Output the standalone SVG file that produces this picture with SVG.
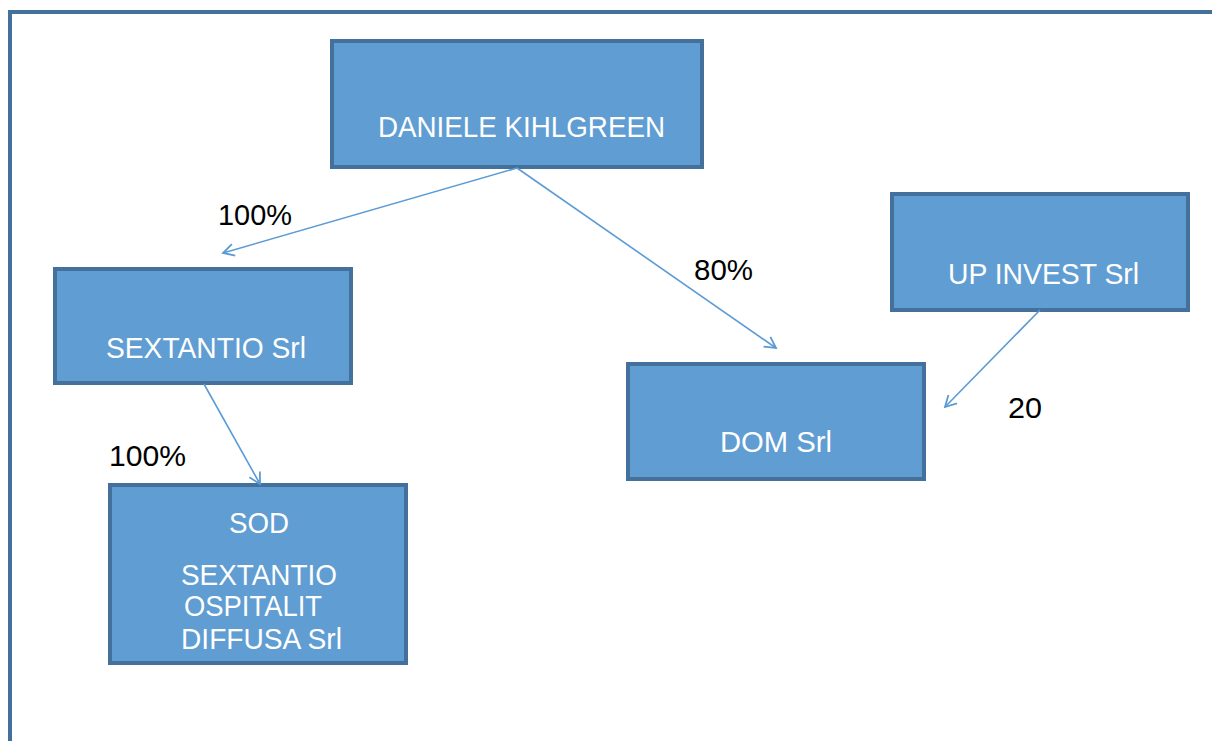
<svg xmlns="http://www.w3.org/2000/svg" width="1212" height="741" viewBox="0 0 1212 741">
<defs>
<marker id="arr" markerWidth="14" markerHeight="14" refX="12" refY="7" orient="auto" markerUnits="userSpaceOnUse">
<path d="M1,1 L12,7 L1,13" fill="none" stroke="#5B9BD5" stroke-width="1.8"/>
</marker>
<style>
.box{fill:#5F9DD2;stroke:#44719B;stroke-width:4}
.t{font-family:"Liberation Sans",Arial,sans-serif;font-size:30px;fill:#ffffff}
.l{font-family:"Liberation Sans",Arial,sans-serif;font-size:30px;fill:#000000}
.c{fill:none;stroke:#5B9BD5;stroke-width:1.6;marker-end:url(#arr)}
</style>
</defs>
<rect width="1212" height="741" fill="#ffffff"/>
<path d="M10,741 L10,12 L1212,12" fill="none" stroke="#44719B" stroke-width="4"/>
<g id="n-daniele">
<rect class="box" x="332" y="41" width="370" height="126"/>
<text class="t" x="378" y="137" textLength="287" lengthAdjust="spacingAndGlyphs">DANIELE KIHLGREEN</text>
</g>
<g id="n-sextantio">
<rect class="box" x="55" y="269" width="296" height="114"/>
<text class="t" x="106" y="358" textLength="200" lengthAdjust="spacingAndGlyphs">SEXTANTIO Srl</text>
</g>
<g id="n-sod">
<rect class="box" x="110" y="485" width="296" height="178"/>
<text class="t" x="229" y="533" textLength="60" lengthAdjust="spacingAndGlyphs">SOD</text>
<text class="t" x="181" y="585" textLength="156" lengthAdjust="spacingAndGlyphs">SEXTANTIO</text>
<text class="t" x="184" y="616" textLength="138" lengthAdjust="spacingAndGlyphs">OSPITALIT</text>
<text class="t" x="181" y="649" textLength="161" lengthAdjust="spacingAndGlyphs">DIFFUSA Srl</text>
</g>
<g id="n-dom">
<rect class="box" x="628" y="364" width="296" height="115"/>
<text class="t" x="720" y="452" textLength="112" lengthAdjust="spacingAndGlyphs">DOM Srl</text>
</g>
<g id="n-upinvest">
<rect class="box" x="892" y="194" width="296" height="116"/>
<text class="t" x="948" y="284" textLength="191" lengthAdjust="spacingAndGlyphs">UP INVEST Srl</text>
</g>
<g id="connectors">
<line class="c" x1="517" y1="168" x2="223" y2="253"/>
<line class="c" x1="517" y1="168" x2="776" y2="348"/>
<line class="c" x1="204" y1="384" x2="260" y2="484"/>
<line class="c" x1="1040" y1="310" x2="945" y2="407"/>
</g>
<g id="labels">
<text class="l" x="218" y="225" textLength="74" lengthAdjust="spacingAndGlyphs">100%</text>
<text class="l" x="694" y="280" textLength="59" lengthAdjust="spacingAndGlyphs">80%</text>
<text class="l" x="109" y="466" textLength="77" lengthAdjust="spacingAndGlyphs">100%</text>
<text class="l" x="1008" y="418" textLength="34" lengthAdjust="spacingAndGlyphs">20</text>
</g>
</svg>
